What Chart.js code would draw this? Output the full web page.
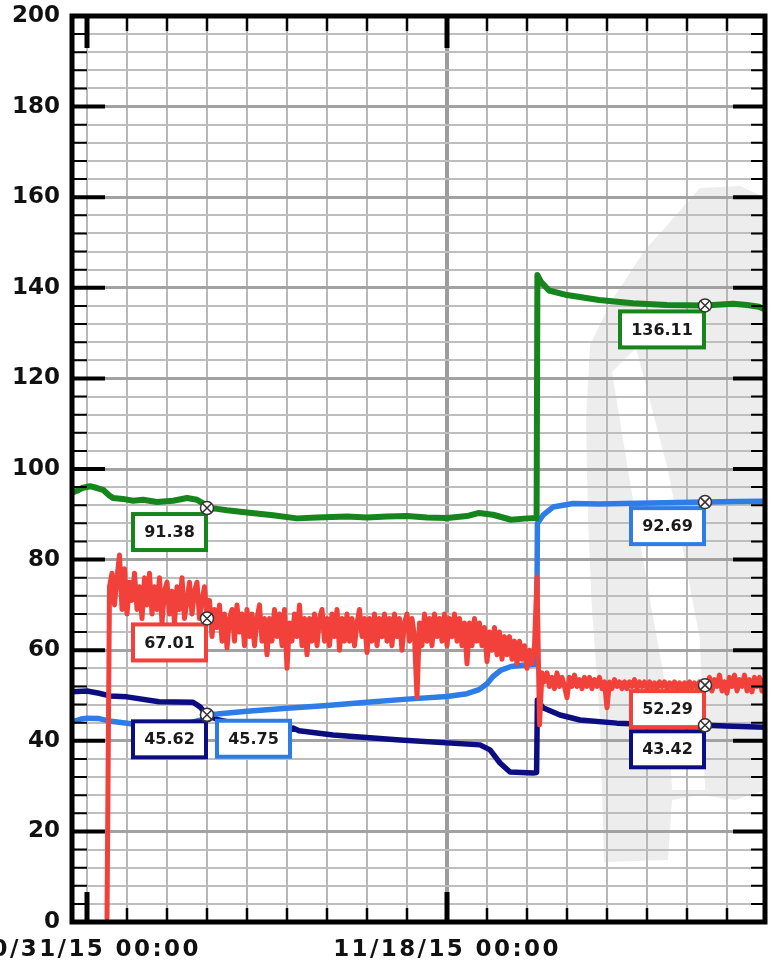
<!DOCTYPE html>
<html>
<head>
<meta charset="utf-8">
<title>Trend</title>
<script src="https://cdn.jsdelivr.net/npm/chart.js@4.4.1/dist/chart.umd.min.js"></script>
<style>
  html, body { margin: 0; padding: 0; background: #fff; }
  #chart { display: block; }
</style>
</head>
<body>
<canvas id="chart" width="769" height="966"></canvas>
<script>
// time axis is in days counted from 10/31/15 00:00
const xMinDay = -0.75;
const xMaxDay = 33.9;
const xGridDays = [0, 2, 4, 6, 8, 10, 12, 14, 16, 18, 20, 22, 24, 26, 28, 30, 32];
const labelledDays = [0, 18];
const labelledDates = ["10/31/15 00:00", "11/18/15 00:00"];
const yMin = 0;
const yMax = 200;

// green trace
const greenDays = [-0.75, -0.5, -0.25, 0.15, 0.5, 0.8, 1.1, 1.3, 1.8, 2.3, 2.8, 3.5, 4.3, 5.0, 5.5, 5.8, 6.0, 6.5, 7.0, 8.0,
  9.3, 10.5, 11.5, 13.0, 14.0, 15.0, 16.0, 17.0, 18.0, 19.0, 19.6, 20.3, 21.2, 22.0, 22.48, 22.52, 22.7, 23.1, 24.0, 25.6,
  27.3, 29.0, 30.9, 32.3, 33.0, 33.6, 33.9];
const greenValues = [94.8, 95.2, 95.8, 96.2, 95.8, 95.4, 94.2, 93.6, 93.4, 93.0, 93.2, 92.7, 93.0, 93.6, 93.2, 92.4, 91.38, 91.2, 90.9, 90.4,
  89.8, 89.1, 89.3, 89.5, 89.3, 89.5, 89.6, 89.3, 89.2, 89.6, 90.3, 89.9, 88.8, 89.1, 89.2, 142.8, 141.3, 139.4, 138.4, 137.3,
  136.6, 136.2, 136.11, 136.5, 136.2, 135.8, 135.2];

// light blue trace
const blueDays = [-0.75, -0.3, 0.0, 0.6, 1.2, 2.5, 4.0, 5.2, 5.7, 6.0, 6.5, 8.0, 10.0, 12.0, 14.0, 16.0, 18.0, 19.0, 19.6, 20.0,
  20.3, 20.7, 21.2, 22.0, 22.48, 22.52, 22.8, 23.3, 24.3, 25.6, 28.2, 30.9, 32.5, 33.9];
const blueValues = [44.2, 44.8, 45.0, 44.9, 44.3, 43.6, 43.8, 44.0, 44.6, 45.75, 45.9, 46.5, 47.2, 47.8, 48.5, 49.2, 49.8, 50.4, 51.3, 52.6,
  54.2, 55.6, 56.4, 56.8, 56.9, 88.0, 89.8, 91.6, 92.4, 92.3, 92.5, 92.69, 92.8, 92.9];

// navy trace
const navyDays = [-0.75, 0.0, 0.6, 1.15, 2.0, 3.6, 5.3, 5.65, 6.0, 6.6, 8.0, 10.0, 10.3, 10.6, 12.3, 15.65, 19.65, 20.15, 20.65, 21.15,
  22.3, 22.48, 22.52, 22.8, 23.65, 24.65, 26.5, 29.0, 30.9, 32.3, 33.9];
const navyValues = [50.8, 51.0, 50.5, 49.9, 49.7, 48.6, 48.5, 47.5, 45.62, 44.6, 43.3, 42.2, 42.8, 42.2, 41.3, 40.2, 39.1, 38.0, 35.1, 33.1,
  32.9, 33.0, 49.0, 47.3, 45.7, 44.6, 43.9, 43.5, 43.42, 43.2, 43.0];

// red trace, sampled every 3 hours from 11/01/15 00:00 (one row per day)
const redStartDay = 1.0;
const redStepDays = 0.125;
const redValues = [
  0.8, 74, 77, 70, 76, 81, 69, 78,
  68, 75, 71, 77, 69, 74, 67, 76,
  70, 77, 68, 74, 69, 76, 66, 73,
  75, 68, 73, 66, 74, 69, 76, 67,
  71, 75, 68, 73, 75, 67, 71, 74,
  67, 71, 63, 69, 65, 70, 62, 68,
  60.5, 67, 69, 62, 70, 64, 68, 61,
  69, 63, 68, 61, 67, 70, 62, 67,
  59, 67, 62, 69, 63, 68, 61, 69,
  56, 66, 62, 68, 63, 70, 61, 67,
  59, 67, 62, 68, 61, 67, 69, 62,
  67, 61, 68, 63, 69, 60, 67, 62,
  68, 62, 67, 61, 66, 69, 63, 67,
  59.5, 67, 62, 68, 61, 67, 63, 68,
  62, 67, 61, 68, 63, 67, 60, 66,
  68, 62, 67, 63, 49.5, 66, 61, 68,
  62, 67, 61, 68, 63, 67, 62, 68,
  61, 67, 63, 68, 62, 67, 61, 66,
  57, 66, 61, 67, 62, 66, 61, 65,
  57.5, 64, 60, 65, 59, 64, 58, 63,
  59, 63, 58, 62, 57, 62, 58, 61,
  56, 60, 57, 61, 76.2, 43.5, 55, 53,
  55, 52, 54, 51.5, 55, 52, 54, 52,
  49.5, 54, 52, 54.5, 52, 53.5, 51.5, 54,
  52, 54, 51.5, 53.5, 52, 54, 51.5, 53,
  47.3, 53, 51.5, 53.5, 52, 53, 51.5, 53,
  51.5, 53, 52, 53.5, 51.5, 53, 52, 53,
  51.5, 53, 51.8, 52.8, 51.5, 53, 52, 53,
  51.5, 52.8, 51.8, 53, 51.4, 52.8, 51.6, 52.8,
  51.5, 53, 51.8, 52.8, 51.6, 53, 52, 52.6,
  52.3, 54, 51, 53.5, 52, 54.5, 51, 53,
  50.5, 54, 52, 54.5, 51, 53.5, 52, 54.5,
  51, 53.5, 50.8, 54, 52, 54, 51, 53.5,
  52];

// cursor readouts
const cursorDays = [6.0, 30.9];
const leftReadouts = [91.38, 67.01, 45.62, 45.75];   // green, red, navy, blue
const rightReadouts = [136.11, 92.69, 52.29, 43.42]; // green, blue, red, navy

const GREEN = "#15851c";
const BLUE = "#2e7de6";
const NAVY = "#0d0d82";
const RED = "#f2403a";
const FONT = "'DejaVu Sans', Verdana, sans-serif";

function toPoints(days, values) {
    return days.map((d, i) => ({ x: d, y: values[i] }));
}
const redPoints = redValues.map((v, i) => ({ x: redStartDay + i * redStepDays, y: v }));

const readouts = [
    { day: cursorDays[0], value: leftReadouts[0], color: GREEN, side: "left" },
    { day: cursorDays[0], value: leftReadouts[1], color: RED, side: "left" },
    { day: cursorDays[0], value: leftReadouts[2], color: NAVY, side: "left" },
    { day: cursorDays[0], value: leftReadouts[3], color: BLUE, side: "right" },
    { day: cursorDays[1], value: rightReadouts[0], color: GREEN, side: "left" },
    { day: cursorDays[1], value: rightReadouts[1], color: BLUE, side: "left" },
    { day: cursorDays[1], value: rightReadouts[2], color: RED, side: "left" },
    { day: cursorDays[1], value: rightReadouts[3], color: NAVY, side: "left" }
];

// faint logo behind the grid, plus wider spacing for the date labels
const watermark = {
    id: "watermark",
    beforeDraw(chart) {
        const xs = chart.scales.x;
        if (!xs._spaced) {
            const drawLabels = xs.drawLabels.bind(xs);
            xs.drawLabels = function(area) {
                this.ctx.save();
                this.ctx.letterSpacing = "2.4px";
                drawLabels(area);
                this.ctx.restore();
            };
            xs._spaced = true;
        }

        const ctx = chart.ctx;
        ctx.save();
        const outline = [[700, 188], [740, 186], [766, 198], [766, 790], [735, 800], [700, 795], [672, 800], [668, 860],
            [604, 862], [600, 720], [592, 610], [588, 520], [586, 420], [590, 345], [612, 300], [645, 250]];
        const gap = [[612, 372], [636, 348], [668, 470], [700, 640], [705, 790], [672, 790], [668, 700], [650, 600], [628, 470]];
        [[outline, "#ededed"], [gap, "#fff"]].forEach(([pts, col]) => {
            ctx.fillStyle = col;
            ctx.beginPath();
            pts.forEach((p, i) => i ? ctx.lineTo(p[0], p[1]) : ctx.moveTo(p[0], p[1]));
            ctx.closePath();
            ctx.fill();
        });
        ctx.restore();
    }
};

// black frame, inward ticks and cursor readouts
const frameAndReadouts = {
    id: "frameAndReadouts",
    afterDatasetsDraw(chart) {
        const { ctx, chartArea: a, scales: { x, y } } = chart;
        ctx.save();
        ctx.strokeStyle = "#000";
        ctx.lineCap = "butt";

        y.ticks.forEach(t => {
            const py = y.getPixelForValue(t.value);
            const major = t.value % 20 === 0;
            ctx.lineWidth = major ? 4 : 2;
            ctx.beginPath();
            ctx.moveTo(a.left, py); ctx.lineTo(a.left + (major ? 33 : 15), py);
            ctx.moveTo(a.right, py); ctx.lineTo(a.right - (major ? 32 : 14), py);
            ctx.stroke();
        });
        x.ticks.forEach(t => {
            const px = x.getPixelForValue(t.value);
            const major = labelledDays.includes(t.value);
            ctx.lineWidth = major ? 5 : 2.5;
            ctx.beginPath();
            ctx.moveTo(px, a.top); ctx.lineTo(px, a.top + (major ? 32 : 15));
            ctx.moveTo(px, a.bottom); ctx.lineTo(px, a.bottom - (major ? 30 : 14));
            ctx.stroke();
        });
        ctx.lineWidth = 5;
        ctx.strokeRect(a.left, a.top, a.right - a.left, a.bottom - a.top);

        ctx.font = "bold 16px " + FONT;
        ctx.textAlign = "center";
        ctx.textBaseline = "middle";
        readouts.forEach(r => {
            const px = x.getPixelForValue(r.day);
            const py = y.getPixelForValue(r.value);
            const text = r.value.toFixed(2);
            const w = Math.round(ctx.measureText(text).width) + 22;
            const h = 36;
            const bx = r.side === "left" ? px - w - 1 : px + 10;
            const by = py + 6;
            ctx.fillStyle = "#fff";
            ctx.fillRect(bx, by, w, h);
            ctx.strokeStyle = r.color;
            ctx.lineWidth = 4;
            ctx.strokeRect(bx, by, w, h);
            ctx.fillStyle = "#1a1a1a";
            ctx.fillText(text, bx + w / 2, by + h / 2 + 1);
        });
        readouts.forEach(r => {
            const px = x.getPixelForValue(r.day);
            const py = y.getPixelForValue(r.value);
            ctx.beginPath();
            ctx.arc(px, py, 6.5, 0, Math.PI * 2);
            ctx.fillStyle = "#fff";
            ctx.fill();
            ctx.lineWidth = 1.5;
            ctx.strokeStyle = "#333";
            ctx.stroke();
            ctx.beginPath();
            ctx.moveTo(px - 4.5, py - 4.5); ctx.lineTo(px + 4.5, py + 4.5);
            ctx.moveTo(px + 4.5, py - 4.5); ctx.lineTo(px - 4.5, py + 4.5);
            ctx.stroke();
        });
        ctx.restore();
    }
};

const yGridValues = [];
for (let v = yMin; v <= yMax; v += 4) yGridValues.push(v);

const tickFont = { family: FONT, size: 23, weight: "bold" };

const chart = new Chart(document.getElementById("chart").getContext("2d"), {
    type: "line",
    data: {
        datasets: [
            { label: "red", data: redPoints, borderColor: RED, borderWidth: 5 },
            { label: "green", data: toPoints(greenDays, greenValues), borderColor: GREEN, borderWidth: 6 },
            { label: "blue", data: toPoints(blueDays, blueValues), borderColor: BLUE, borderWidth: 5.5 },
            { label: "navy", data: toPoints(navyDays, navyValues), borderColor: NAVY, borderWidth: 5.5 }
        ]
    },
    options: {
        responsive: false,
        animation: false,
        devicePixelRatio: 1,
        layout: { padding: { top: 16, right: 4, left: 0, bottom: 0 } },
        elements: {
            point: { radius: 0, hoverRadius: 0 },
            line: { tension: 0, borderJoinStyle: "round", borderCapStyle: "round", fill: false }
        },
        plugins: { legend: { display: false }, tooltip: { enabled: false } },
        scales: {
            x: {
                type: "linear",
                min: xMinDay,
                max: xMaxDay,
                afterBuildTicks: s => { s.ticks = xGridDays.map(v => ({ value: v })); },
                afterFit: s => { s.height = 44; s.paddingLeft = 0; s.paddingRight = 0; },
                border: { display: false },
                grid: {
                    drawTicks: false,
                    color: c => c.tick && c.tick.value === 18 ? "#9c9c9c" : "#b8b8b8",
                    lineWidth: c => c.tick && c.tick.value === 18 ? 4 : 2
                },
                ticks: {
                    autoSkip: false,
                    maxRotation: 0,
                    padding: 14,
                    color: "#111",
                    font: tickFont,
                    callback: v => {
                        const k = labelledDays.indexOf(v);
                        return k >= 0 ? labelledDates[k] : "";
                    }
                }
            },
            y: {
                type: "linear",
                min: yMin,
                max: yMax,
                afterBuildTicks: s => { s.ticks = yGridValues.map(v => ({ value: v })); },
                afterFit: s => { s.width = 72; s.paddingTop = 0; s.paddingBottom = 0; },
                border: { display: false },
                grid: {
                    drawTicks: false,
                    color: c => c.tick && c.tick.value % 20 === 0 ? "#a2a2a2" : "#bebebe",
                    lineWidth: c => c.tick && c.tick.value % 20 === 0 ? 3 : 2
                },
                ticks: {
                    autoSkip: false,
                    padding: 12,
                    color: "#111",
                    font: tickFont,
                    callback: v => v % 20 === 0 ? v : ""
                }
            }
        }
    },
    plugins: [watermark, frameAndReadouts]
});
</script>
</body>
</html>
